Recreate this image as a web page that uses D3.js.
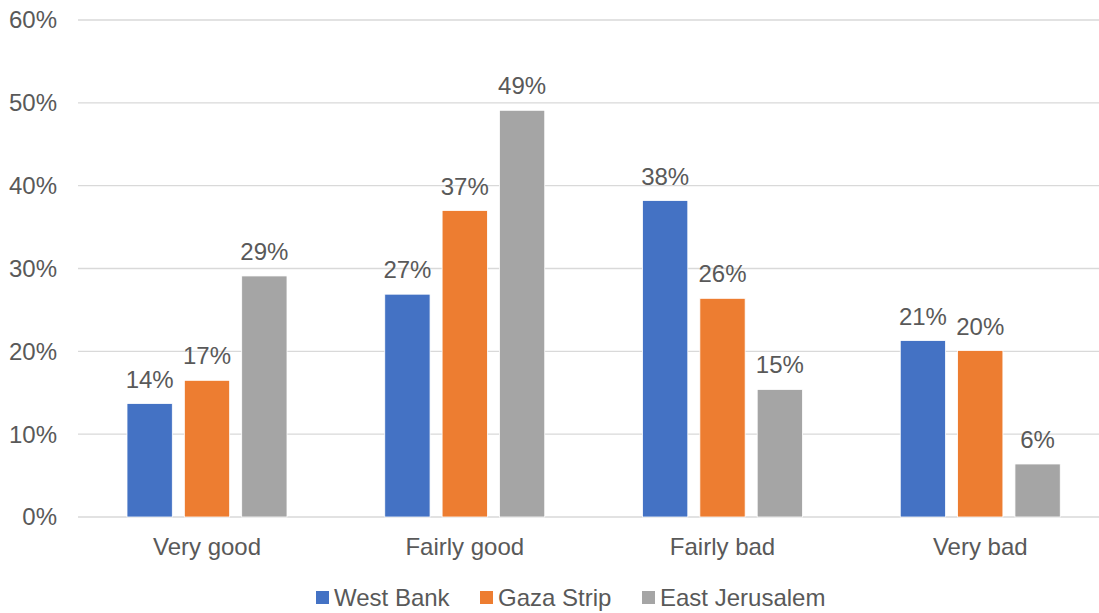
<!DOCTYPE html>
<html>
<head>
<meta charset="utf-8">
<script src="https://cdn.jsdelivr.net/npm/d3@7"></script>
<style>
  body { margin: 0; background: #fff; }
  text { font-family: "Liberation Sans", Arial, sans-serif; fill: #595959; }
</style>
</head>
<body>
<div class="chart"></div>
<script>
// DATA ---------------------------------------------------------------
const categories = ['Very good', 'Fairly good', 'Fairly bad', 'Very bad'];
const seriesNames = ['West Bank', 'Gaza Strip', 'East Jerusalem'];
const westBank = [13.7, 26.9, 38.2, 21.3];
const gazaStrip = [16.5, 37.0, 26.4, 20.1];
const eastJerusalem = [29.1, 49.1, 15.4, 6.4];
const yTicks = [0, 10, 20, 30, 40, 50, 60];
const colors = ['#4472c4', '#ed7d31', '#a5a5a5'];

const series = [westBank, gazaStrip, eastJerusalem];

// CHART INIT ---------------------------------------------------------
const width = 1099;
const height = 613;

const svg = d3.select('.chart')
    .append('svg')
    .attr('width', width)
    .attr('height', height);

const xScale = d3.scaleBand()
    .domain(categories)
    .range([78, 1109]);

const xInner = d3.scaleBand()
    .domain(seriesNames)
    .range([49, 209])
    .paddingInner(0.21);

const yScale = d3.scaleLinear()
    .domain([0, 60])
    .range([517, 20]);

// gridlines
svg.append('g')
    .selectAll('line')
    .data(yTicks)
    .enter()
    .append('line')
    .attr('x1', 78)
    .attr('x2', width)
    .attr('y1', d => yScale(d))
    .attr('y2', d => yScale(d))
    .attr('stroke', '#d9d9d9')
    .attr('stroke-width', 1.3);

// y tick labels
svg.append('g')
    .selectAll('text')
    .data(yTicks)
    .enter()
    .append('text')
    .attr('x', 57)
    .attr('y', d => yScale(d))
    .attr('dy', '0.35em')
    .attr('text-anchor', 'end')
    .style('font-size', '24px')
    .text(d => d + '%');

// bars
const groups = svg.selectAll('.cat')
    .data(categories)
    .enter()
    .append('g')
    .attr('class', 'cat')
    .attr('transform', d => 'translate(' + xScale(d) + ',0)');

seriesNames.forEach((name, s) => {
    groups.append('rect')
        .attr('x', xInner(name))
        .attr('width', xInner.bandwidth())
        .attr('y', (d, i) => yScale(series[s][i]))
        .attr('height', (d, i) => yScale(0) - yScale(series[s][i]))
        .attr('fill', colors[s])
        .attr('stroke', '#fff')
        .attr('stroke-width', 0.8);

    groups.append('text')
        .attr('x', xInner(name) + xInner.bandwidth() / 2)
        .attr('y', (d, i) => yScale(series[s][i]) - 16)
        .attr('text-anchor', 'middle')
        .style('font-size', '24px')
        .text((d, i) => Math.round(series[s][i]) + '%');
});

// category labels
svg.append('g')
    .selectAll('text')
    .data(categories)
    .enter()
    .append('text')
    .attr('x', d => xScale(d) + 129)
    .attr('y', 555)
    .attr('text-anchor', 'middle')
    .style('font-size', '24px')
    .text(d => d);

// legend
const legendX = [316, 480, 642];
const legend = svg.append('g')
    .selectAll('g')
    .data(seriesNames)
    .enter()
    .append('g')
    .attr('transform', (d, i) => 'translate(' + legendX[i] + ',597.5)');

legend.append('rect')
    .attr('x', 0)
    .attr('y', -6.5)
    .attr('width', 13)
    .attr('height', 13)
    .attr('fill', (d, i) => colors[i]);

legend.append('text')
    .attr('x', 18)
    .attr('dy', '0.35em')
    .style('font-size', '24px')
    .text(d => d);
</script>
</body>
</html>
